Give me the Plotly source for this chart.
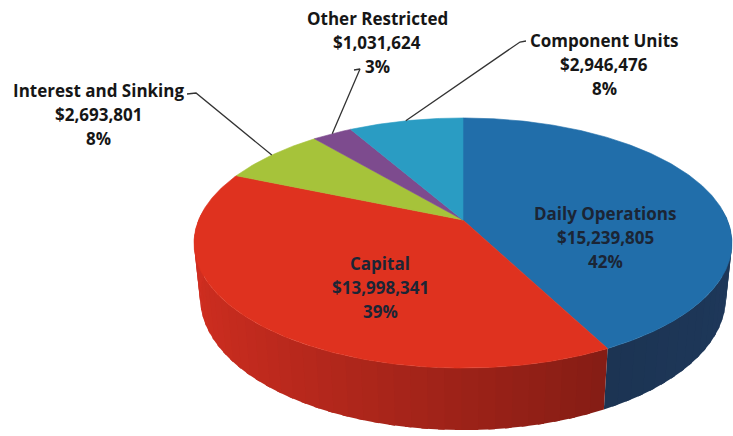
import math
import plotly.graph_objects as go

# Fund balances by category
categories = ["Daily Operations", "Capital", "Interest and Sinking",
              "Other Restricted", "Component Units"]
values = [15239805, 13998341, 2693801, 1031624, 2946476]

# Face colours and side shading (lit side, shaded side)
top_colors = ["#216eaa", "#df321f", "#a6c33a", "#7d4b8e", "#2a9cc3"]
side_lit = [(22, 40, 64), (208, 46, 32), (120, 140, 40), (90, 54, 102), (30, 112, 140)]
side_dark = [(30, 56, 90), (105, 22, 16), (80, 95, 28), (60, 36, 70), (20, 76, 96)]

# Label placement: centre x, first-line y, leader start points (None = inside label)
label_pos = [(605, 213), (380, 263), (98, 90), (377, 18), (604, 40)]
leader_start = [None, None, [(187, 94), (196, 93)], [(354, 70), (360, 69)],
                [(526, 41), (520, 42)]]
line_gap = 24

W, H = 733, 436

# Perspective view of a flat disc
CX, CY = 463.0, 220.0
A = 264.4            # screen scale
S, C = 0.457, 0.8895  # sin / cos of view elevation
Q = 0.207            # radius / camera distance
DEPTH = 0.235        # disc thickness relative to radius


def project(theta_deg, z=0.0, r=1.0):
    t = math.radians(theta_deg)
    x, w = r * math.sin(t), r * math.cos(t)
    den = 1 + Q * (w * C - z * S)
    sx = A * x / den
    sy = A * (w * S + z * C) / den
    return CX + sx, CY - sy


def arc(a0, a1, z=0.0, step=1.0):
    n = max(2, int(abs(a1 - a0) / step) + 1)
    return [project(a0 + (a1 - a0) * i / (n - 1), z) for i in range(n)]


def mix(c1, c2, t):
    return "rgb({},{},{})".format(*[round(a + (b - a) * t) for a, b in zip(c1, c2)])


total = sum(values)
fracs = [v / total for v in values]
bounds = [0.0]
for f in fracs:
    bounds.append(bounds[-1] + f * 360.0)

fig = go.Figure()

# Rim of the disc, drawn in thin shaded bands on the near half;
# each band overlaps the next one slightly so no seams show.
for i in range(len(values)):
    a0, a1 = bounds[i], bounds[i + 1]
    lo, hi = max(a0, 85.0), min(a1, 275.0)
    if hi <= lo:
        continue
    n = max(1, int((hi - lo) / 3.0))
    for j in range(n):
        b0 = lo + (hi - lo) * j / n
        b1 = lo + (hi - lo) * (j + 1) / n
        b1x = min(b1 + 1.2, hi)
        top = arc(b0, b1x, 0.0, 0.5)
        bot = arc(b1x, b0, -DEPTH, 0.5)
        pts = top + bot + [top[0]]
        t = (math.sin(math.radians((b0 + b1) / 2)) + 1) / 2
        col = mix(side_lit[i], side_dark[i], t)
        fig.add_trace(go.Scatter(
            x=[p[0] for p in pts], y=[p[1] for p in pts],
            mode="lines", fill="toself", fillcolor=col,
            line=dict(width=0), hoverinfo="skip", showlegend=False))

# Top faces of the slices
for i in range(len(values)):
    a0, a1 = bounds[i], bounds[i + 1]
    pts = [(CX, CY)] + arc(a0, a1, 0.0, 0.5) + [(CX, CY)]
    fig.add_trace(go.Scatter(
        x=[p[0] for p in pts], y=[p[1] for p in pts],
        mode="lines", fill="toself", fillcolor=top_colors[i],
        line=dict(color=top_colors[i], width=0.6),
        name=categories[i], hoverinfo="name", showlegend=False))

# Leader lines from outer labels to the slice rims
for i in range(len(values)):
    if leader_start[i] is None:
        continue
    mid = (bounds[i] + bounds[i + 1]) / 2
    end = project(mid)
    pts = leader_start[i] + [end]
    fig.add_trace(go.Scatter(
        x=[p[0] for p in pts], y=[p[1] for p in pts], mode="lines",
        line=dict(color="#333333", width=1.3), hoverinfo="skip", showlegend=False))

# Data labels
annotations = []
for i in range(len(values)):
    pct = round(fracs[i] * 100)
    lines = [categories[i], "${:,}".format(values[i]), "{}%".format(pct)]
    x0, y0 = label_pos[i]
    inside = leader_start[i] is None
    for j, txt in enumerate(lines):
        annotations.append(dict(
            x=x0, y=y0 + j * line_gap, xref="x", yref="y", text="<b>" + txt + "</b>",
            showarrow=False, xanchor="center", yanchor="middle",
            font=dict(family="Open Sans", size=17,
                      color="#1b2535" if inside else "#161616"),
        ))

fig.update_layout(
    width=W, height=H,
    margin=dict(l=0, r=0, t=0, b=0),
    paper_bgcolor="white", plot_bgcolor="white",
    xaxis=dict(range=[0, W], visible=False, fixedrange=True),
    yaxis=dict(range=[H, 0], visible=False, fixedrange=True),
    annotations=annotations,
    font=dict(family="Open Sans"),
)

fig.write_html("out.html")
